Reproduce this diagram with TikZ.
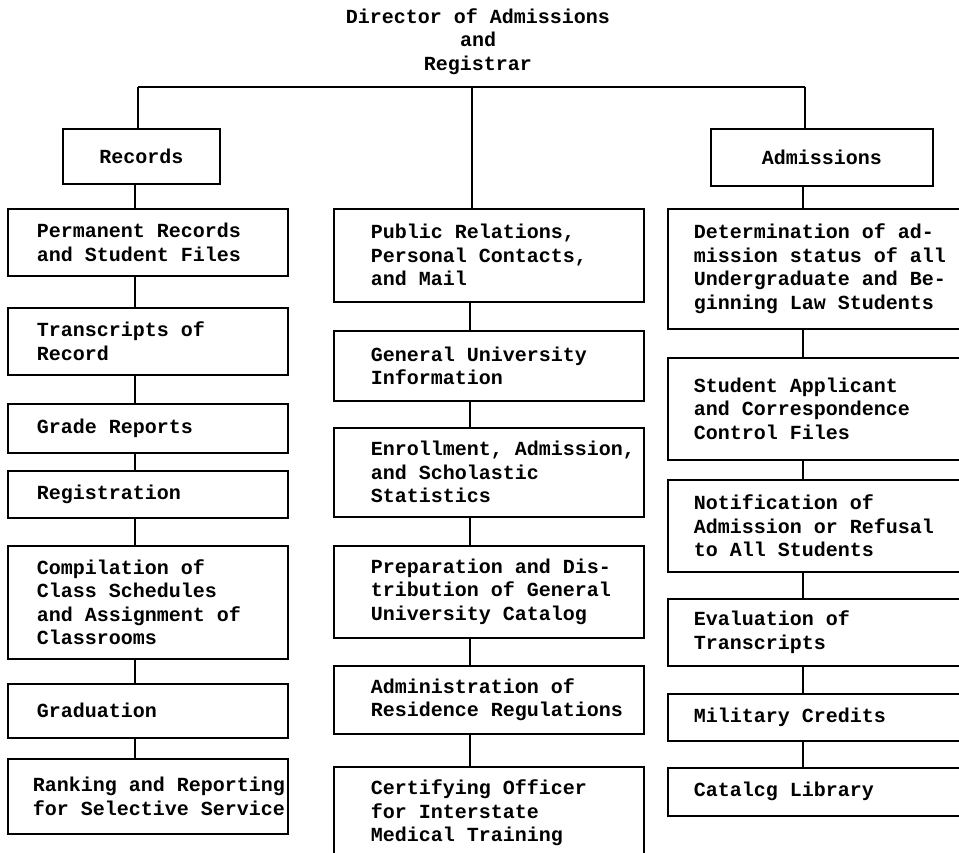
\documentclass[tikz,border=0pt]{standalone}
\usepackage{fontspec}
\setmonofont{Liberation Mono}
\newcommand\chartfont{\ttfamily\bfseries\fontsize{20}{23.5}\selectfont}
\tikzset{
  conn/.style={line width=1.6pt},
  unit/.style={draw, line width=1.6pt, anchor=north west, inner xsep=0pt, inner ysep=0pt, align=left, font=\chartfont},
  lcol/.style={unit, text width=280pt, execute at begin node={\spaceskip=0pt\xspaceskip=0pt\leftskip=29pt\relax}},
  lcolb/.style={unit, text width=280pt, execute at begin node={\spaceskip=0pt\xspaceskip=0pt\leftskip=25pt\relax}},
  mcol/.style={unit, text width=310pt, execute at begin node={\spaceskip=0pt\xspaceskip=0pt\leftskip=37pt\relax}},
  rcol/.style={unit, text width=330pt, execute at begin node={\spaceskip=0pt\xspaceskip=0pt\leftskip=26pt\relax}},
  hdr/.style={draw, line width=1.6pt, anchor=north west, inner sep=0pt, align=center, font=\chartfont}
}
\begin{document}
\begin{tikzpicture}[x=1pt,y=-1pt]
\useasboundingbox (0,0) rectangle (959,853);
\fill[white] (0,0) rectangle (959,853);
\clip (0,0) rectangle (959,853);

% title
\node[align=center, font=\chartfont] (dir) at (478,41.5) {Director of Admissions\\and\\Registrar};

% header boxes
\node[hdr, minimum width=157pt, minimum height=55pt] (rec) at (62,128) {Records};
\node[hdr, minimum width=222pt, minimum height=57pt] (adm) at (710,128) {Admissions};

% left column
\node[lcol, minimum height=67pt] (l1) at (7,208) {Permanent Records\\and Student Files};
\node[lcol, minimum height=67pt] (l2) at (7,307) {Transcripts of\\Record};
\node[lcol, minimum height=49pt] (l3) at (7,403) {Grade Reports};
\node[lcol, minimum height=47pt] (l4) at (7,470) {Registration};
\node[lcol, minimum height=113pt] (l5) at (7,545) {Compilation of\\Class Schedules\\and Assignment of\\Classrooms};
\node[lcol, minimum height=54pt] (l6) at (7,683) {Graduation};
\node[lcolb, minimum height=75pt] (l7) at (7,758) {Ranking and Reporting\\for Selective Service};

% middle column
\node[mcol, minimum height=93pt] (m1) at (333,208) {Public Relations,\\Personal Contacts,\\and Mail};
\node[mcol, minimum height=70pt] (m2) at (333,330) {General University\\Information};
\node[mcol, minimum height=89pt] (m3) at (333,427) {Enrollment, Admission,\\and Scholastic\\Statistics};
\node[mcol, minimum height=92pt] (m4) at (333,545) {Preparation and Dis-\\tribution of General\\University Catalog};
\node[mcol, minimum height=68pt] (m5) at (333,665) {Administration of\\Residence Regulations};
\node[mcol, minimum height=92pt] (m6) at (333,766) {Certifying Officer\\for Interstate\\Medical Training};

% right column
\node[rcol, minimum height=120pt] (r1) at (667,208) {Determination of ad-\\mission status of all\\Undergraduate and Be-\\ginning Law Students};
\node[rcol, minimum height=102pt] (r2) at (667,357) {Student Applicant\\and Correspondence\\Control Files};
\node[rcol, minimum height=92pt] (r3) at (667,479) {Notification of\\Admission or Refusal\\to All Students};
\node[rcol, minimum height=67pt] (r4) at (667,598) {Evaluation of\\Transcripts};
\node[rcol, minimum height=47pt] (r5) at (667,693) {Military Credits};
\node[rcol, minimum height=48pt] (r6) at (667,767) {Catalcg Library};

% connector guide coordinates
\coordinate (tl) at (138,87);
\coordinate (tr) at (805,87);
\coordinate (bar) at (472,87);
\coordinate (cl) at (135,0);
\coordinate (cm) at (470,0);
\coordinate (cr) at (803,0);

% top bar
\draw[conn] (tl) -- (tr);
\draw[conn] (tl) -- (rec.north -| tl);
\draw[conn] (tr) -- (adm.north -| tr);
\draw[conn] (bar) -- (m1.north -| bar);

% left chain
\draw[conn] (rec.south -| cl) -- (l1.north -| cl);
\draw[conn] (l1.south -| cl) -- (l2.north -| cl);
\draw[conn] (l2.south -| cl) -- (l3.north -| cl);
\draw[conn] (l3.south -| cl) -- (l4.north -| cl);
\draw[conn] (l4.south -| cl) -- (l5.north -| cl);
\draw[conn] (l5.south -| cl) -- (l6.north -| cl);
\draw[conn] (l6.south -| cl) -- (l7.north -| cl);

% middle chain
\draw[conn] (m1.south -| cm) -- (m2.north -| cm);
\draw[conn] (m2.south -| cm) -- (m3.north -| cm);
\draw[conn] (m3.south -| cm) -- (m4.north -| cm);
\draw[conn] (m4.south -| cm) -- (m5.north -| cm);
\draw[conn] (m5.south -| cm) -- (m6.north -| cm);

% right chain
\draw[conn] (adm.south -| cr) -- (r1.north -| cr);
\draw[conn] (r1.south -| cr) -- (r2.north -| cr);
\draw[conn] (r2.south -| cr) -- (r3.north -| cr);
\draw[conn] (r3.south -| cr) -- (r4.north -| cr);
\draw[conn] (r4.south -| cr) -- (r5.north -| cr);
\draw[conn] (r5.south -| cr) -- (r6.north -| cr);
\end{tikzpicture}
\end{document}
